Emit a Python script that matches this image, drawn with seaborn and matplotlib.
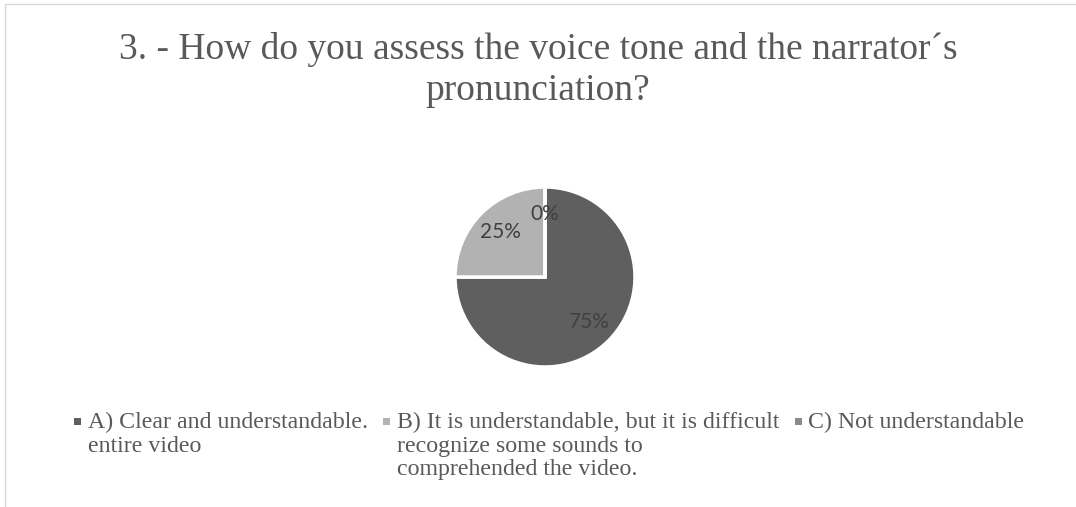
import matplotlib
matplotlib.use("Agg")
import matplotlib.pyplot as plt
import seaborn as sns
from matplotlib.lines import Line2D
from matplotlib.patches import Rectangle

# data
categories = [
    "A) Clear and understandable.\nentire video",
    "B) It is understandable, but it is difficult\nrecognize some sounds to\ncomprehended the video.",
    "C) Not understandable",
]
shares = [75, 25, 0]
colors = ["#5f5f5f", "#b2b2b2", "#8a8a8a"]
title = "3. - How do you assess the voice tone and the narrator\u00b4s\npronunciation?"

sns.set_theme(style="white")
plt.rcParams["font.family"] = ["Liberation Serif", "DejaVu Serif"]

W, H = 1076, 507
fig = plt.figure(figsize=(W / 100, H / 100), dpi=100)

# pie axes: center ~ (545, 277) px, radius ~ 90 px
r_px = 90
lim = 1.2
side = 2 * lim * r_px
cx, cy = 545, 277
ax = fig.add_axes([(cx - side / 2) / W, (H - cy - side / 2) / H, side / W, side / H])

wedges, texts, autotexts = ax.pie(
    shares, colors=colors, startangle=90, counterclock=False,
    autopct="%.0f%%", pctdistance=0.7,
    wedgeprops=dict(edgecolor="white", linewidth=2.5),
    textprops=dict(color="#404040", fontsize=15, family=["Lato", "DejaVu Sans"]),
)
ax.set_xlim(-lim, lim)
ax.set_ylim(-lim, lim)
ax.set_aspect("equal")
ax.axis("off")

fig.text(0.5, 1 - 32 / H, title, ha="center", va="top", fontsize=27,
         color="#595959", linespacing=1.23)

# legend laid out item by item, like the office chart legend
renderer = fig.canvas.get_renderer()
x = 74
text_top = 412
mark = 7
for label, c in zip(categories, colors):
    fig.add_artist(Rectangle((x / W, 1 - (421 + mark / 2) / H), mark / W, mark / H,
                             transform=fig.transFigure, facecolor=c, edgecolor="none"))
    fig.text((x + 14) / W, 1 - text_top / H, label, ha="left", va="top",
             fontsize=17.2, color="#595959", linespacing=1.16)
    first = fig.text(0, 0, label.split("\n")[0], fontsize=17.2)
    w_first = first.get_window_extent(renderer).width
    first.remove()
    x = x + 14 + w_first + 15

# chart frame (top and left edges visible)
fig.add_artist(Line2D([5 / W, 1], [1 - 4 / H, 1 - 4 / H], color="#d9d9d9", lw=1))
fig.add_artist(Line2D([5 / W, 5 / W], [0, 1 - 4 / H], color="#d9d9d9", lw=1))

fig.savefig("out.png", dpi=100, facecolor="white")
